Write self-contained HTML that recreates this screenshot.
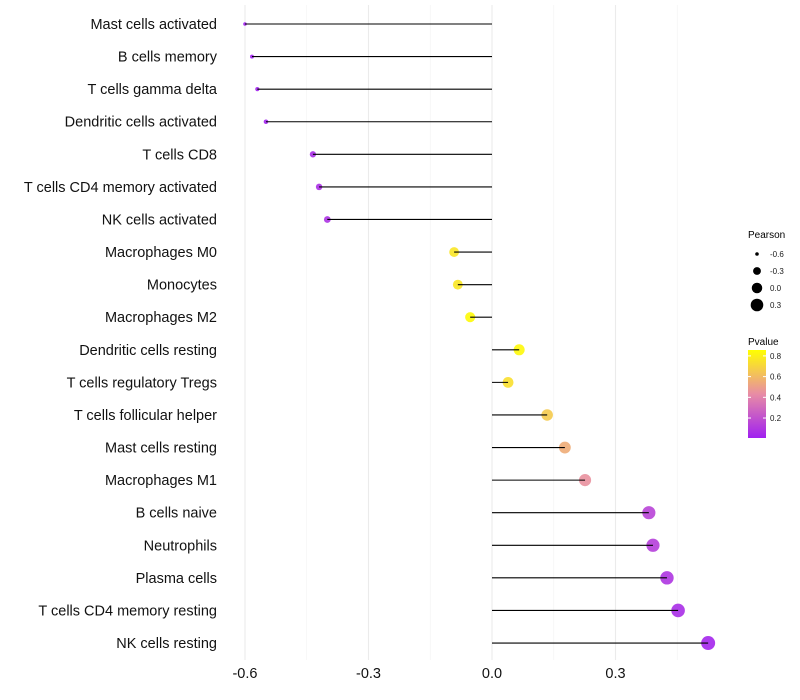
<!DOCTYPE html>
<html><head><meta charset="utf-8"><style>
body{margin:0;background:#fff;}
svg{display:block;font-family:"Liberation Sans",sans-serif;}
</style></head><body>
<svg id="chart" width="800" height="700"></svg>
<script>
const categories=["Mast cells activated","B cells memory","T cells gamma delta","Dendritic cells activated","T cells CD8","T cells CD4 memory activated","NK cells activated","Macrophages M0","Monocytes","Macrophages M2","Dendritic cells resting","T cells regulatory  Tregs ","T cells follicular helper","Mast cells resting","Macrophages M1","B cells naive","Neutrophils","Plasma cells","T cells CD4 memory resting","NK cells resting"];
const pearson=[-0.60,-0.583,-0.57,-0.549,-0.435,-0.42,-0.40,-0.092,-0.083,-0.053,0.066,0.039,0.134,0.177,0.226,0.381,0.391,0.425,0.452,0.525];
const pvalues=[0.01,0.01,0.02,0.02,0.06,0.07,0.08,0.76,0.77,0.84,0.83,0.74,0.66,0.55,0.45,0.15,0.13,0.09,0.06,0.03];
const xTicks=[-0.6,-0.3,0.0,0.3];
const xTickLabels=["-0.6","-0.3","0.0","0.3"];
const sizeLegend=[-0.6,-0.3,0.0,0.3];
const colorTicks=[0.2,0.4,0.6,0.8];

const NS="http://www.w3.org/2000/svg";
const svg=document.getElementById('chart');
function el(t,a,p){const e=document.createElementNS(NS,t);for(const k in a)e.setAttribute(k,a[k]);(p||svg).appendChild(e);return e;}
const x=v=>492+v*411.7;
const y=i=>24+i*32.58;
const rad=v=>Math.sqrt(3.2+40.7*Math.max(0,v+0.6));
function col(p){const t=Math.max(0,Math.min(1,(p-0.007)/0.85));
 const stops=[[0,[160,32,240]],[0.5,[232,140,165]],[1,[255,255,0]]];
 let a=stops[0],b=stops[1];if(t>0.5){a=stops[1];b=stops[2];}
 const u=(t-a[0])/(b[0]-a[0]);
 return `rgb(${a[1].map((c,k)=>Math.round(c+(b[1][k]-c)*u)).join(',')})`;}

[-0.45,-0.15,0.15,0.45].forEach(v=>{const g=el('line',{x1:x(v),x2:x(v),y1:5,y2:660,stroke:'#f2f2f2','stroke-width':0.6});});
xTicks.forEach((v,i)=>{const g=el('line',{x1:x(v),x2:x(v),y1:5,y2:660,stroke:'#ebebeb','stroke-width':1.1});
 const t=el('text',{x:x(v),y:678,'text-anchor':'middle','font-size':14.5,fill:'#111'});t.textContent=xTickLabels[i];});

categories.forEach((c,i)=>{
 const t=el('text',{x:217,y:y(i)+5,'text-anchor':'end','font-size':14.5,fill:'#111'});t.textContent=c;
 
 const pt=el('circle',{cx:x(pearson[i]),cy:y(i),r:rad(pearson[i]),fill:col(pvalues[i]),'fill-opacity':0.9});
 
 const ln=el('line',{x1:x(0),x2:x(pearson[i]),y1:y(i),y2:y(i),stroke:'#000','stroke-width':1.1});
 
});

const lt=el('text',{x:748,y:238,'font-size':10,fill:'#000'});lt.textContent='Pearson';
sizeLegend.forEach((v,i)=>{const cy=254+i*17;
 const c=el('circle',{cx:757,cy:cy,r:rad(v),fill:'#000'});
 const t=el('text',{x:770,y:cy+3,'font-size':8,fill:'#1a1a1a'});t.textContent=v.toFixed(1);});

const ct=el('text',{x:748,y:345,'font-size':10,fill:'#000'});ct.textContent='Pvalue';
const defs=el('defs',{});const lg=el('linearGradient',{id:'pg',x1:0,y1:1,x2:0,y2:0},defs);
[0,0.25,0.5,0.75,1].forEach(o=>el('stop',{offset:o,'stop-color':col(0.007+o*0.85)},lg));
const bar=el('rect',{x:748,y:350,width:18,height:88,fill:'url(#pg)'});
const cy=p=>438-(p-0.007)/0.85*88;
colorTicks.forEach(p=>{el('line',{x1:748,x2:751,y1:cy(p),y2:cy(p),stroke:'#fff'});el('line',{x1:763,x2:766,y1:cy(p),y2:cy(p),stroke:'#fff'});
 const t=el('text',{x:770,y:cy(p)+3,'font-size':8,fill:'#1a1a1a'});t.textContent=p.toFixed(1);});
</script>
</body></html>
